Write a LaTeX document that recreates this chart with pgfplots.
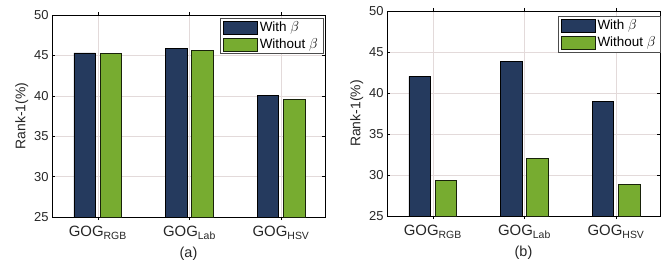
\documentclass[border=0pt]{standalone}
\usepackage{pgfplots}
\pgfplotsset{compat=1.18}
\usepackage{fontspec}
\setmainfont{Liberation Sans}
\definecolor{navyb}{HTML}{253A5E}
\definecolor{greenb}{HTML}{77AC30}
\definecolor{gridc}{HTML}{E3DADA}
\pgfplotsset{
  myax/.style={
    scale only axis,
    width=273bp,
    xmin=0.5, xmax=3.48,
    ymin=25, ymax=50,
    ytick={25,30,...,50},
    xtick={1,2,3},
    xticklabels={GOG\textsubscript{RGB},GOG\textsubscript{Lab},GOG\textsubscript{HSV}},
    xmajorgrids, ymajorgrids,
    major grid style={gridc, line width=0.5pt},
    tick align=inside,
    major tick length=3bp,
    axis line style={black, line width=0.5pt},
    tick style={black, line width=0.5pt},
    /pgf/number format/assume math mode=true,
    yticklabel style={font=\fontsize{13}{14}\selectfont, text=black!85},
    xticklabel style={font=\fontsize{15}{16}\selectfont, text=black!85, yshift=-3bp},
    ylabel={Rank-1(\%)},
    ylabel style={font=\fontsize{14}{15}\selectfont, text=black!85, yshift=-1bp},
    xlabel style={font=\fontsize{14.5}{15}\selectfont, text=black!85, yshift=0bp},
    ybar,
    bar width=0.235,
    legend cell align=left,
    legend image code/.code={\draw[#1] (0bp,-6.5bp) rectangle (34bp,6.5bp);},
    legend style={font=\fontsize{13.5}{14}\selectfont, draw=black!70, line width=0.5pt,
      inner xsep=3bp, inner ysep=1.5bp, row sep=1.5bp},
  },
  withb/.style={fill=navyb, draw=black, line width=0.6pt, bar shift=-0.143},
  woutb/.style={fill=greenb, draw=black!80!greenb, line width=0.6pt, bar shift=0.143},
}
\begin{document}
\begin{tikzpicture}
\path[use as bounding box] (-52bp,-50bp) rectangle (619bp,217bp);
\begin{axis}[myax, at={(0bp,0bp)}, anchor=south west, height=202bp,
  xlabel={(a)},
  legend style={at={(0.993,0.985)}, anchor=north east}]
\addplot[withb] coordinates {(1,45.3) (2,45.85) (3,40.05)};
\addplot[woutb] coordinates {(1,45.25) (2,45.65) (3,39.55)};
\legend{With $\beta$, Without $\beta$}
\end{axis}
\begin{axis}[myax, at={(335bp,1bp)}, anchor=south west, height=205bp,
  xlabel={(b)},
  legend style={at={(1.003,0.975)}, anchor=north east}]
\addplot[withb] coordinates {(1,42.03) (2,43.82) (3,39.0)};
\addplot[woutb] coordinates {(1,29.3) (2,32.03) (3,28.85)};
\legend{With $\beta$, Without $\beta$}
\end{axis}
\end{tikzpicture}
\end{document}
